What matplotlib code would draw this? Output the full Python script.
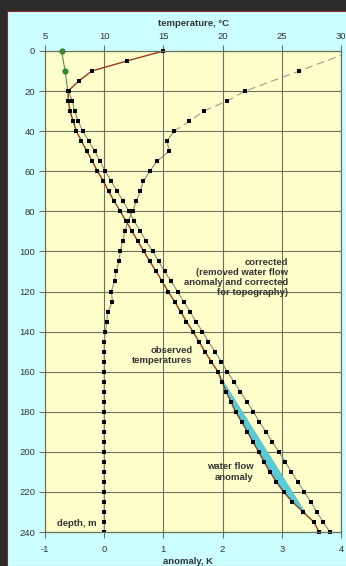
import matplotlib
matplotlib.use("Agg")
import matplotlib.pyplot as plt
from matplotlib.patches import Rectangle

plt.rcParams['font.family'] = ['Liberation Sans', 'DejaVu Sans']
plt.rcParams['axes.unicode_minus'] = False

# depths of the 5 m readings
depth = list(range(0, 241, 5))

# observed temperatures, degC (0..240 m)
observed_T = [15.0, 11.9, 8.95, 7.85, 6.95, 6.97, 7.12, 7.37, 7.65, 8.08,
              8.53, 9.0, 9.43, 9.94, 10.37, 10.85, 11.36, 11.86, 12.35, 12.85,
              13.35, 13.85, 14.4, 14.9, 15.4, 15.95, 16.45, 16.95, 17.5, 18.0,
              18.5, 19.05, 19.6, 19.95, 20.3, 20.7, 21.1, 21.6, 22.1, 22.55,
              23.05, 23.5, 24.0, 24.55, 25.15, 25.9, 26.8, 27.7, 28.15]

# corrected temperatures, degC (20..240 m)
corrected_depth = list(range(20, 241, 5))
corrected_T = [7.0, 7.3, 7.5, 7.8, 8.2, 8.7, 9.2, 9.65, 10.1, 10.6,
               11.1, 11.6, 12.1, 12.55, 13.05, 13.55, 14.1, 14.6, 15.1, 15.65,
               16.2, 16.7, 17.25, 17.75, 18.3, 18.8, 19.35, 19.9, 20.4, 20.95,
               21.5, 22.05, 22.6, 23.1, 23.65, 24.2, 24.75, 25.3, 25.8, 26.35,
               26.9, 27.45, 27.95, 28.5, 29.05]

# green near-surface readings
green_depth = [0, 10, 20]
green_T = [6.4, 6.7, 6.92]

# anomaly, K - dashed upper part and solid lower part
anom_top_depth = [0, 10, 20, 25, 30, 35, 40]
anom_top_K = [4.2, 3.29, 2.38, 2.07, 1.68, 1.44, 1.18]
anom_depth = list(range(40, 241, 5))
anom_K = [1.18, 1.06, 1.1, 0.89, 0.77, 0.66, 0.61, 0.54, 0.48, 0.4,
          0.35, 0.31, 0.27, 0.25, 0.2, 0.175, 0.12, 0.14, 0.06, 0.045,
          0.02, 0.0, 0.0, 0.0, 0.0, 0.0, 0.0, 0.0, 0.0, 0.0,
          0.0, 0.0, 0.0, 0.0, 0.0, 0.0, 0.0, 0.0, 0.0, 0.0, 0.0]

# straight edge of the water flow anomaly (tip, top)
flow_edge_depth = [232, 160]
flow_edge_T = [27.2, 19.6]

W, H = 346, 566
fig = plt.figure(figsize=(W / 100, H / 100), dpi=100)
fig.patch.set_facecolor('#2c2c2c')
fig.patches.append(Rectangle((7 / W, 0), 1, 1 - 11 / H, transform=fig.transFigure,
                             facecolor='#CCFFFF', edgecolor='#8a2a2a', lw=0.8,
                             zorder=-10))

grid_c = '#6e6e5e'
text_c = '#333333'

ax = fig.add_axes([45 / W, 1 - 532 / H, 296 / W, 481 / H])
ax.set_facecolor('#FFFFCC')
ax.set_xlim(-1, 4)
ax.set_ylim(240, 0)
ax.set_xticks(range(-1, 5))
ax.set_yticks(range(0, 241, 20))
ax.grid(True, color=grid_c, lw=0.8)
ax.set_axisbelow(True)

ax2 = ax.twiny()
ax2.set_xlim(5, 30)
ax2.set_xticks(range(5, 31, 5))

for a in (ax, ax2):
    for s in a.spines.values():
        s.set_color(grid_c)
        s.set_linewidth(0.8)
    a.tick_params(colors=grid_c, labelcolor=text_c, labelsize=6.8,
                  length=4, width=0.8, pad=3)
ax.tick_params(axis='x', pad=5)

# anomaly (bottom axis)
ax.plot(anom_top_K, anom_top_depth, color='#9a9a90', lw=0.8, ls=(0, (7, 4)))
ax.plot(anom_top_K[1:], anom_top_depth[1:], ls='none', marker='s', ms=2.8,
        mew=0, color='black')
ax.plot(anom_K, anom_depth, color='#8a8a80', lw=0.8, marker='s', ms=2.8,
        mew=0, mfc='black')

# water flow anomaly fill
i0 = depth.index(160)
i1 = depth.index(230)
fill_T = observed_T[i0:i1 + 1] + flow_edge_T
fill_d = depth[i0:i1 + 1] + flow_edge_depth
ax2.fill(fill_T, fill_d, color='#55CCD8', lw=0)

# temperatures (top axis)
ax2.plot(green_T, green_depth, color='#5a8a5a', lw=0.8)
ax2.plot(green_T[:2], green_depth[:2], ls='none', marker='o', ms=4.5,
         mew=0, color='#2e8b2e', clip_on=False)
ax2.plot(corrected_T, corrected_depth, color='#8a8a80', lw=0.8, marker='s',
         ms=3.2, mew=0, mfc='black', clip_on=False)
ax2.plot(observed_T, depth, color='#9a3a20', lw=1.0, marker='s', ms=2.8,
         mew=0, mfc='black', clip_on=False)

ax2.set_ylim(240, 0)

bold = dict(fontsize=6.8, fontweight='bold', color=text_c)
ax.text(3.10, 113, 'corrected\n(removed water flow\nanomaly and corrected\nfor topography)',
        ha='right', va='center', multialignment='right', linespacing=1.15, **bold)
ax.text(1.49, 152, 'observed\ntemperatures', ha='right', va='center',
        multialignment='right', linespacing=1.15, **bold)
ax.text(2.52, 210, 'water flow\nanomaly', ha='right', va='center',
        multialignment='right', linespacing=1.2, **bold)
ax.text(-0.12, 236, 'depth, m', ha='right', va='center', **bold)

fig.text(194 / W, 1 - 23 / H, 'temperature, °C', ha='center', va='center', **bold)
fig.text(188 / W, 1 - 561 / H, 'anomaly, K', ha='center', va='center', **bold)

fig.savefig('out.png', dpi=100, facecolor=fig.get_facecolor())
